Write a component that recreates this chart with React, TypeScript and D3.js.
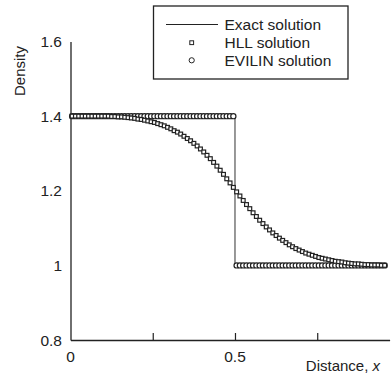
import React, { useRef, useEffect } from 'react';
import * as d3 from 'd3';

// cell centres of the 1D mesh, 0.005 .. 0.955
const gridX: number[] = d3.range(96).map((i) => 0.005 + i * 0.01);

const hllDensity: number[] = [
  1.4, 1.4, 1.4, 1.4, 1.4, 1.4, 1.4, 1.4, 1.4, 1.4,
  1.4, 1.4, 1.399, 1.399, 1.398, 1.398, 1.397, 1.396, 1.395, 1.394,
  1.392, 1.391, 1.389, 1.387, 1.385, 1.383, 1.38, 1.377, 1.374, 1.37,
  1.366, 1.361, 1.357, 1.352, 1.346, 1.34, 1.334, 1.327, 1.32, 1.312,
  1.304, 1.295, 1.286, 1.276, 1.266, 1.255, 1.244, 1.232, 1.221, 1.209,
  1.197, 1.186, 1.174, 1.163, 1.152, 1.141, 1.131, 1.121, 1.112, 1.103,
  1.095, 1.087, 1.08, 1.073, 1.067, 1.061, 1.055, 1.05, 1.045, 1.041,
  1.037, 1.033, 1.03, 1.027, 1.024, 1.021, 1.019, 1.017, 1.015, 1.013,
  1.011, 1.01, 1.009, 1.007, 1.006, 1.005, 1.004, 1.004, 1.003, 1.002,
  1.002, 1.001, 1.001, 1.001, 1.0, 1.0,
];

const evilinDensity: number[] = [
  1.4, 1.4, 1.4, 1.4, 1.4, 1.4, 1.4, 1.4, 1.4, 1.4,
  1.4, 1.4, 1.4, 1.4, 1.4, 1.4, 1.4, 1.4, 1.4, 1.4,
  1.4, 1.4, 1.4, 1.4, 1.4, 1.4, 1.4, 1.4, 1.4, 1.4,
  1.4, 1.4, 1.4, 1.4, 1.4, 1.4, 1.4, 1.4, 1.4, 1.4,
  1.4, 1.4, 1.4, 1.4, 1.4, 1.4, 1.4, 1.4, 1.4, 1.4,
  1.0, 1.0, 1.0, 1.0, 1.0, 1.0, 1.0, 1.0, 1.0, 1.0,
  1.0, 1.0, 1.0, 1.0, 1.0, 1.0, 1.0, 1.0, 1.0, 1.0,
  1.0, 1.0, 1.0, 1.0, 1.0, 1.0, 1.0, 1.0, 1.0, 1.0,
  1.0, 1.0, 1.0, 1.0, 1.0, 1.0, 1.0, 1.0, 1.0, 1.0,
  1.0, 1.0, 1.0, 1.0, 1.0, 1.0,
];

const exactX: number[] = [0, 0.5, 0.5, 0.96];
const exactDensity: number[] = [1.4, 1.4, 1.0, 1.0];

const yTicks: number[] = [0.8, 1, 1.2, 1.4, 1.6];
const yTickLabels: string[] = ['0.8', '1', '1.2', '1.4', '1.6'];
const xTicks: number[] = [0, 0.25, 0.5, 0.75];
const xTickLabels: string[] = ['0', '', '0.5', ''];

const legendLabels: string[] = ['Exact solution', 'HLL solution', 'EVILIN solution'];

const W = 391;
const H = 376;
const INK = '#222';
const FONT = '"Liberation Sans", Arial, sans-serif';

function DensityChart() {
  const svgRef = useRef<SVGSVGElement>(null);

  useEffect(() => {
    const svg = d3.select(svgRef.current);
    svg.selectAll('*').remove();

    const x = d3.scaleLinear().domain([0, 0.97]).range([70.5, 389.6]);
    const y = d3.scaleLinear().domain([0.8, 1.6]).range([340, 41.5]);

    // axes (no tick marks on y, short inward ticks on x)
    svg
      .append('g')
      .attr('transform', `translate(${x(0)},0)`)
      .call(d3.axisLeft(y).tickValues([]).tickSize(0).tickSizeOuter(0))
      .call((g) => g.select('.domain').attr('stroke', INK).attr('stroke-width', 1.3));

    svg
      .append('g')
      .attr('transform', `translate(0,${y(0.8)})`)
      .call(
        d3
          .axisBottom(x)
          .tickValues(xTicks.slice(1))
          .tickSize(-7)
          .tickSizeOuter(0)
          .tickFormat(() => '')
      )
      .call((g) => g.select('.domain').attr('stroke', INK).attr('stroke-width', 1.3))
      .call((g) => g.selectAll('.tick line').attr('stroke', INK).attr('stroke-width', 1.2));

    // tick labels
    svg
      .append('g')
      .selectAll('text')
      .data(yTicks)
      .enter()
      .append('text')
      .attr('x', 62)
      .attr('y', (d) => y(d))
      .attr('dy', '0.36em')
      .attr('text-anchor', 'end')
      .attr('font-family', FONT)
      .attr('font-size', 15.5)
      .attr('fill', INK)
      .text((d, i) => yTickLabels[i]);

    svg
      .append('g')
      .selectAll('text')
      .data(xTicks)
      .enter()
      .append('text')
      .attr('x', (d) => x(d))
      .attr('y', 361.5)
      .attr('text-anchor', 'middle')
      .attr('font-family', FONT)
      .attr('font-size', 15.5)
      .attr('fill', INK)
      .text((d, i) => xTickLabels[i]);

    // axis titles
    svg
      .append('text')
      .attr('transform', 'translate(24.5,71) rotate(-90)')
      .attr('text-anchor', 'middle')
      .attr('font-family', FONT)
      .attr('font-size', 15)
      .attr('fill', INK)
      .text('Density');

    const xTitle = svg
      .append('text')
      .attr('x', 380)
      .attr('y', 370.5)
      .attr('text-anchor', 'end')
      .attr('font-family', FONT)
      .attr('font-size', 15)
      .attr('fill', INK);
    xTitle.append('tspan').text('Distance, ');
    xTitle.append('tspan').attr('font-style', 'italic').text('x');

    // exact solution
    const line = d3
      .line<number>()
      .x((d, i) => x(exactX[i]))
      .y((d) => y(d));
    svg
      .append('path')
      .attr('d', line(exactDensity))
      .attr('fill', 'none')
      .attr('stroke', '#555')
      .attr('stroke-width', 1.2);

    // EVILIN circles
    svg
      .append('g')
      .selectAll('circle')
      .data(evilinDensity)
      .enter()
      .append('circle')
      .attr('cx', (d, i) => x(gridX[i]))
      .attr('cy', (d) => y(d))
      .attr('r', 2.6)
      .attr('fill', 'white')
      .attr('stroke', INK)
      .attr('stroke-width', 1.2);

    // HLL squares
    const s = 3.8;
    svg
      .append('g')
      .selectAll('rect')
      .data(hllDensity)
      .enter()
      .append('rect')
      .attr('x', (d, i) => x(gridX[i]) - s / 2)
      .attr('y', (d) => y(d) - s / 2)
      .attr('width', s)
      .attr('height', s)
      .attr('fill', 'white')
      .attr('stroke', INK)
      .attr('stroke-width', 1.2);

    // legend
    const legend = svg.append('g');
    legend
      .append('rect')
      .attr('x', 153.5)
      .attr('y', 6)
      .attr('width', 194.5)
      .attr('height', 73)
      .attr('fill', 'white')
      .attr('stroke', INK)
      .attr('stroke-width', 1.3);
    legend
      .append('line')
      .attr('x1', 166)
      .attr('x2', 218)
      .attr('y1', 24.5)
      .attr('y2', 24.5)
      .attr('stroke', INK)
      .attr('stroke-width', 1.2);
    legend
      .append('rect')
      .attr('x', 191.7 - s / 2)
      .attr('y', 42.7 - s / 2)
      .attr('width', s)
      .attr('height', s)
      .attr('fill', 'white')
      .attr('stroke', INK)
      .attr('stroke-width', 1);
    legend
      .append('circle')
      .attr('cx', 191.7)
      .attr('cy', 60.3)
      .attr('r', 2.6)
      .attr('fill', 'white')
      .attr('stroke', INK)
      .attr('stroke-width', 1);
    legend
      .selectAll('text')
      .data(legendLabels)
      .enter()
      .append('text')
      .attr('x', 224.5)
      .attr('y', (d, i) => 30 + i * 18)
      .attr('font-family', FONT)
      .attr('font-size', 15.5)
      .attr('fill', INK)
      .text((d) => d);
  }, []);

  return (
    <svg
      ref={svgRef}
      width={W}
      height={H}
      style={{ position: 'absolute', left: 0, top: 0, background: 'white' }}
    />
  );
}

export default function App() {
  return <DensityChart />;
}
